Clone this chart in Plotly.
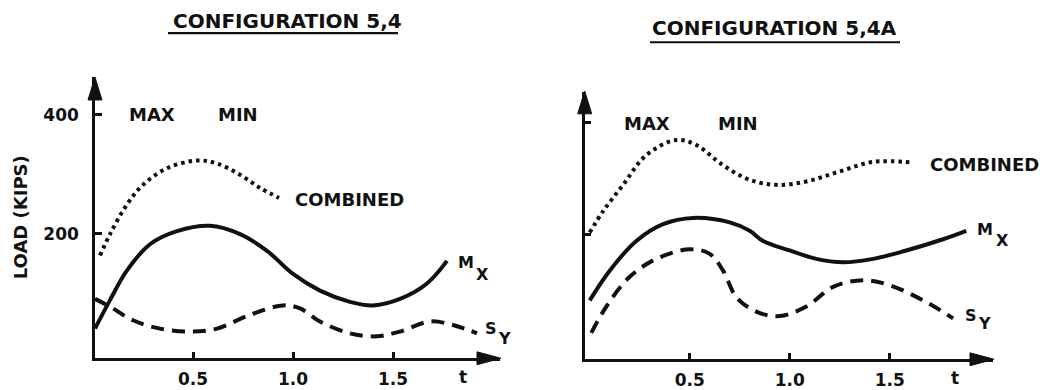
import plotly.graph_objects as go

# ---------------- data ----------------
tick_vals_x = [0.5, 1.0, 1.5]
tick_text_x = ["0.5", "1.0", "1.5"]
tick_vals_y = [200, 400]
tick_text_y = ["200", "400"]

# Configuration 5,4
comb_t_L = [0.035, 0.085, 0.17, 0.25, 0.37, 0.52, 0.62, 0.735, 0.835, 0.93]
comb_v_L = [163, 199, 249, 282, 310, 323, 318, 299, 277, 260]
mx_t_L = [0.01, 0.085, 0.17, 0.285, 0.42, 0.585, 0.735, 0.87, 1.0, 1.135, 1.285, 1.4, 1.535, 1.67, 1.77]
mx_v_L = [40, 88, 138, 182, 204, 213, 199, 171, 132, 104, 85, 79, 90, 116, 154]
sy_t_L = [0.01, 0.085, 0.2, 0.335, 0.485, 0.62, 0.785, 0.95, 1.035, 1.135, 1.285, 1.42, 1.535, 1.685, 1.8, 1.92]
sy_v_L = [90, 77, 54, 40, 35, 40, 63, 79, 74, 52, 32, 27, 35, 52, 46, 32]

# Configuration 5,4A
comb_t_R = [0.0, 0.067, 0.167, 0.283, 0.433, 0.533, 0.667, 0.8, 0.933, 1.083, 1.25, 1.417, 1.617]
comb_v_R = [203, 241, 288, 341, 368, 359, 323, 297, 288, 294, 312, 329, 328]
mx_t_R = [0.0, 0.1, 0.233, 0.367, 0.517, 0.7, 0.8, 0.867, 1.0, 1.133, 1.267, 1.417, 1.583, 1.767, 1.883]
mx_v_R = [82, 135, 188, 218, 229, 221, 206, 188, 171, 156, 150, 156, 171, 191, 206]
sy_t_R = [0.008, 0.083, 0.2, 0.333, 0.5, 0.6, 0.667, 0.733, 0.833, 0.95, 1.083, 1.217, 1.367, 1.5, 1.667, 1.817]
sy_v_R = [24, 71, 124, 156, 173, 165, 135, 88, 62, 54, 71, 106, 118, 109, 82, 50]

titles = ["CONFIGURATION 5,4", "CONFIGURATION 5,4A"]

# ---------------- layout helpers ----------------
W, H = 1046, 390
FONT = "DejaVu Sans"
INK = "#111111"


def px(x):
    return x / W


def py(y):
    return 1 - y / H


fig = go.Figure()

LW = 4
dot = dict(color=INK, width=LW, dash="3.5px,4px", shape="spline", smoothing=1.0)
solid = dict(color=INK, width=LW, shape="spline", smoothing=1.0)
dashed = dict(color=INK, width=LW, dash="13px,8px", shape="spline", smoothing=1.0)

for xa, ya, ct, cv, mt, mv, st, sv in [
    ("x", "y", comb_t_L, comb_v_L, mx_t_L, mx_v_L, sy_t_L, sy_v_L),
    ("x2", "y2", comb_t_R, comb_v_R, mx_t_R, mx_v_R, sy_t_R, sy_v_R),
]:
    fig.add_trace(go.Scatter(x=ct, y=cv, mode="lines", line=dot, xaxis=xa, yaxis=ya,
                             showlegend=False, hoverinfo="skip"))
    fig.add_trace(go.Scatter(x=mt, y=mv, mode="lines", line=solid, xaxis=xa, yaxis=ya,
                             showlegend=False, hoverinfo="skip"))
    fig.add_trace(go.Scatter(x=st, y=sv, mode="lines", line=dashed, xaxis=xa, yaxis=ya,
                             showlegend=False, hoverinfo="skip"))

axis_common = dict(showgrid=False, zeroline=False, showline=True, linecolor=INK, linewidth=2.5,
                   ticks="inside", ticklen=7, tickwidth=2.5, tickcolor=INK,
                   tickfont=dict(family=FONT, size=17, color=INK), fixedrange=True)

bold_x = ["<b>" + s + "</b>" for s in tick_text_x]
bold_y = ["<b>" + s + "</b>" for s in tick_text_y]

# left panel: pixel box x 95..500, y 78..362
fig.update_layout(
    xaxis=dict(domain=[px(95), px(500)], range=[0.01, 2.035], anchor="y",
               tickvals=tick_vals_x, ticktext=bold_x, ticklabelstandoff=4, **axis_common),
    yaxis=dict(domain=[py(362), py(78)], range=[-10, 463.3], anchor="x",
               tickvals=tick_vals_y, ticktext=bold_y, ticklabelstandoff=10, **axis_common),
    xaxis2=dict(domain=[px(584.7), px(993)], range=[-0.025, 2.0165], anchor="y2",
                tickvals=tick_vals_x, ticktext=bold_x, ticklabelstandoff=4, **axis_common),
    yaxis2=dict(domain=[py(363), py(93)], range=[-23, 453.5], anchor="x2",
                tickvals=tick_vals_y, showticklabels=False, **axis_common),
)

shapes = []


def tri(points):
    d = "M " + " L ".join(f"{px(a):.5f},{py(b):.5f}" for a, b in points) + " Z"
    return dict(type="path", xref="paper", yref="paper", path=d,
                fillcolor=INK, line=dict(color=INK, width=1))


# arrowheads
shapes.append(tri([(95, 78), (88, 101), (102, 101)]))
shapes.append(tri([(501, 362), (477, 355.5), (477, 368.5)]))
shapes.append(tri([(584.7, 92), (577.7, 115), (591.7, 115)]))
shapes.append(tri([(994, 363), (970, 356.5), (970, 369.5)]))
# title underlines
shapes.append(dict(type="line", xref="paper", yref="paper", x0=px(168), x1=px(398), y0=py(33.5), y1=py(33.5),
                   line=dict(color=INK, width=2.2)))
shapes.append(dict(type="line", xref="paper", yref="paper", x0=px(650), x1=px(900), y0=py(42.7), y1=py(42.7),
                   line=dict(color=INK, width=2.2)))

anns = []


def txt(x, y, s, size=18, angle=0):
    anns.append(dict(x=px(x), y=py(y), xref="paper", yref="paper", text=s, showarrow=False,
                     xanchor="center", yanchor="middle", textangle=angle,
                     font=dict(family=FONT, size=size, color=INK)))


txt(287.5, 21, "<b>" + titles[0] + "</b>", 20)
txt(774, 28.5, "<b>" + titles[1] + "</b>", 20)
txt(20.5, 220, "<b>LOAD (KIPS)</b>", 18, -90)
txt(152, 116, "<b>MAX</b>", 18)
txt(238, 116, "<b>MIN</b>", 18)
txt(647, 125, "<b>MAX</b>", 18)
txt(738, 125, "<b>MIN</b>", 18)
txt(349, 201.5, "<b>COMBINED</b>", 18)
txt(984, 166.5, "<b>COMBINED</b>", 18)
txt(465.8, 265.5, "<b>M</b>", 16)
txt(482.5, 277, "<b>X</b>", 16)
txt(491, 332, "<b>S</b>", 16)
txt(504, 342, "<b>Y</b>", 16)
txt(985, 231.5, "<b>M</b>", 16)
txt(1002.5, 242.5, "<b>X</b>", 16)
txt(971, 318.5, "<b>S</b>", 16)
txt(984, 327, "<b>Y</b>", 16)
txt(463, 381, "<b>t</b>", 17)
txt(955, 382, "<b>t</b>", 17)

fig.update_layout(
    width=W, height=H, margin=dict(l=0, r=0, t=0, b=0),
    paper_bgcolor="white", plot_bgcolor="white",
    shapes=shapes, annotations=anns,
    font=dict(family=FONT, color=INK),
)

fig.write_html("out.html")
